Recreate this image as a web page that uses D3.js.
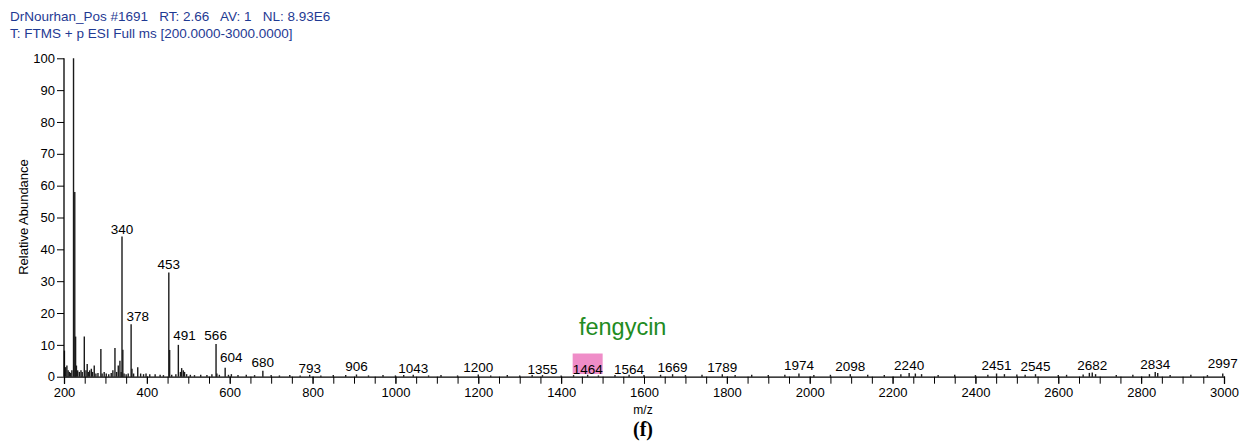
<!DOCTYPE html>
<html>
<head>
<meta charset="utf-8">
<script src="https://cdn.jsdelivr.net/npm/d3@7"></script>
<style>
  body { margin: 0; background: #fff; }
  svg { display: block; font-family: "Liberation Sans", Arial, sans-serif; }
</style>
</head>
<body>
<svg id="chart" width="1248" height="446"></svg>
<script>
// header lines of the spectrum
const headerLines = [
    "DrNourhan_Pos #1691   RT: 2.66   AV: 1   NL: 8.93E6",
    "T: FTMS + p ESI Full ms [200.0000-3000.0000]"
];

// peak positions (m/z) and relative abundance (%)
const peakMz = [201, 204, 207, 210, 213, 216, 219, 223, 226, 228, 230, 233, 237, 241, 244, 249, 253, 256, 259, 262, 266, 269, 273, 277, 282,
    289, 292, 297, 302, 308, 314, 318, 323, 327, 331, 335, 338, 340, 342, 345, 350, 355, 362, 364, 368, 378, 385, 392, 398, 407,
    420, 432, 440, 453, 455, 460, 470, 476, 481, 484, 488, 491, 496, 505, 515, 530, 545, 557, 567, 569, 575, 589, 597, 604,
    620, 640, 660, 680, 700, 720, 745, 770, 793, 820, 850, 880, 906, 935, 970, 1000, 1020, 1043, 1080, 1110, 1150, 1200,
    1230, 1270, 1300, 1330, 1355, 1400, 1430, 1464, 1490, 1530, 1564, 1600, 1640, 1669, 1700, 1740, 1789, 1820, 1860, 1900,
    1940, 1974, 2010, 2050, 2098, 2140, 2180, 2220, 2240, 2255, 2270, 2310, 2350, 2400, 2430, 2451, 2470, 2500, 2520, 2545,
    2600, 2620, 2660, 2675, 2682, 2690, 2740, 2780, 2820, 2834, 2840, 2870, 2920, 2960, 2997];
const peakAb = [8.2, 3.0, 3.5, 2.0, 1.5, 1.2, 2.0, 100, 58, 12.6, 3.5, 2.0, 1.5, 2.0, 1.5, 12.6, 2.0, 4.0, 1.5, 2.0, 2.5, 1.5, 3.5, 1.0, 1.2,
    8.7, 1.0, 1.5, 1.0, 0.8, 1.2, 2.0, 9.0, 1.5, 3.5, 5.0, 1.5, 44, 8.5, 1.0, 0.8, 1.0, 16.5, 2.5, 1.0, 3.0, 1.0, 0.8, 1.0, 0.8,
    0.8, 0.6, 0.5, 32.7, 8.4, 0.6, 0.8, 10, 1.5, 2.7, 2.0, 1.5, 0.8, 0.6, 0.5, 0.6, 0.5, 0.8, 10.3, 1.0, 0.6, 2.8, 0.6, 0.8,
    0.5, 0.6, 0.5, 1.9, 0.5, 0.4, 0.5, 0.4, 0.6, 0.4, 0.5, 0.5, 0.7, 0.4, 0.5, 0.4, 0.5, 0.6, 0.4, 0.5, 0.4, 0.7,
    0.4, 0.5, 0.4, 0.5, 0.5, 0.4, 0.5, 0.6, 0.4, 0.5, 0.6, 0.5, 0.6, 0.8, 0.5, 0.6, 0.8, 0.5, 0.6, 0.5,
    0.6, 1.0, 0.5, 0.6, 0.8, 0.6, 0.5, 0.8, 1.2, 1.0, 0.8, 0.5, 0.6, 0.5, 0.6, 1.0, 0.8, 0.7, 0.6, 0.8,
    0.5, 0.6, 0.7, 1.2, 1.3, 0.8, 0.5, 0.6, 0.8, 1.5, 1.2, 0.5, 0.6, 0.5, 1.0];

// labelled peaks and the abundance level at which each label sits
const labelMz = [340, 378, 453, 491, 566, 604, 680, 793, 906, 1043, 1200, 1355, 1464, 1564, 1669, 1789,
    1974, 2098, 2240, 2451, 2545, 2682, 2834, 2997];
const labelLevel = [44.9, 17.4, 33.9, 11.4, 11.4, 4.7, 2.9, 1.2, 1.7, 1.2, 1.4, 1.0, 1.0, 1.0, 1.6, 1.6,
    2.0, 1.7, 2.0, 2.2, 1.7, 2.0, 2.3, 2.6];

// annotated compound
const highlightMz = 1464;
const compoundName = "fengycin";
const compoundLevel = 13.2;

// axis ticks
const xTicks = [200, 400, 600, 800, 1000, 1200, 1400, 1600, 1800, 2000, 2200, 2400, 2600, 2800, 3000];
const yTicks = [0, 10, 20, 30, 40, 50, 60, 70, 80, 90, 100];

const svg = d3.select("#chart");

const x = d3.scaleLinear().domain([200, 3000]).range([64, 1224]);
const y = d3.scaleLinear().domain([0, 100]).range([376.7, 58.3]);

// header
svg.selectAll(".header")
    .data(headerLines)
    .enter().append("text")
    .attr("class", "header")
    .attr("x", 10)
    .attr("y", (d, i) => 21 + i * 16.5)
    .attr("fill", "#1f3a93")
    .style("font-size", "13.5px")
    .style("white-space", "pre")
    .text(d => d);

// highlight box behind 1464 label
const hiIdx = labelMz.indexOf(highlightMz);
svg.append("rect")
    .attr("x", x(highlightMz) - 15)
    .attr("y", y(labelLevel[hiIdx]) - 20)
    .attr("width", 30)
    .attr("height", 20.5)
    .attr("fill", "#ef8dc8");

// peaks
const peaks = peakMz.map((mz, i) => ({ mz: mz, ab: peakAb[i] }));
svg.append("g")
    .selectAll("line")
    .data(peaks)
    .enter().append("line")
    .attr("x1", d => x(d.mz))
    .attr("x2", d => x(d.mz))
    .attr("y1", y(0))
    .attr("y2", d => y(d.ab))
    .attr("stroke", "#1a1a1a")
    .attr("stroke-width", 1.4);

// axes
const xMinor = d3.range(200, 3001, 50);
svg.append("g")
    .attr("transform", `translate(0,${y(0)})`)
    .call(d3.axisBottom(x).tickValues(xMinor).tickSize(7).tickFormat(""))
    .call(g => g.select(".domain").attr("stroke-width", 1.3));

svg.append("g")
    .attr("transform", `translate(0,${y(0)})`)
    .call(d3.axisBottom(x).tickValues(xTicks).tickSize(7).tickPadding(4).tickFormat(d3.format("d")))
    .call(g => g.select(".domain").remove())
    .call(g => g.selectAll("text").style("font-size", "13px").attr("fill", "#000").attr("font-family", "Liberation Sans, Arial, sans-serif"));

svg.append("g")
    .attr("transform", `translate(${x(200)},0)`)
    .call(d3.axisLeft(y).tickValues(yTicks).tickSize(7).tickPadding(2))
    .call(g => g.select(".domain").attr("stroke-width", 1.3).attr("d", `M0,${y(100)}V${y(0)}`))
    .call(g => g.selectAll("text").style("font-size", "13px").attr("fill", "#000").attr("font-family", "Liberation Sans, Arial, sans-serif"));

// peak labels
svg.append("g")
    .selectAll("text")
    .data(labelMz)
    .enter().append("text")
    .attr("x", d => x(d))
    .attr("y", (d, i) => y(labelLevel[i]))
    .attr("text-anchor", "middle")
    .style("font-size", "13.5px")
    .attr("fill", "#000")
    .text(d => d);

// compound name
svg.append("text")
    .attr("x", x(highlightMz) + 35)
    .attr("y", y(compoundLevel))
    .attr("text-anchor", "middle")
    .attr("fill", "#228b22")
    .style("font-size", "23.5px")
    .text(compoundName);

// axis titles
svg.append("text")
    .attr("transform", `translate(28,217) rotate(-90)`)
    .attr("text-anchor", "middle")
    .style("font-size", "13px")
    .text("Relative Abundance");

svg.append("text")
    .attr("x", 643)
    .attr("y", 414)
    .attr("text-anchor", "middle")
    .style("font-size", "12px")
    .text("m/z");

svg.append("text")
    .attr("x", 643)
    .attr("y", 436)
    .attr("text-anchor", "middle")
    .attr("font-family", "Liberation Serif, Times New Roman, serif")
    .attr("font-weight", "bold")
    .style("font-size", "20px")
    .text("(f)");
</script>
</body>
</html>
